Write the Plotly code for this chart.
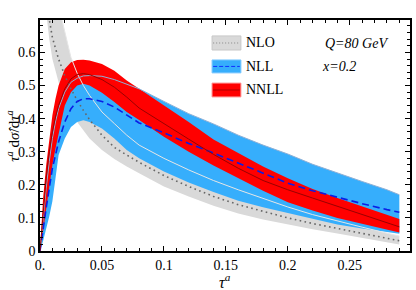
import plotly.graph_objects as go

# ---------------- data ----------------
tau = [0, 0.0025, 0.005, 0.0075, 0.01, 0.0125, 0.015, 0.02, 0.025, 0.03, 0.035, 0.04,
       0.05, 0.06, 0.07, 0.08, 0.1, 0.12, 0.14, 0.16, 0.18, 0.2, 0.22, 0.24, 0.26, 0.28, 0.29]

nnll_central = [0, 0.12, 0.22, 0.30, 0.36, 0.405, 0.44, 0.49, 0.52, 0.533, 0.536, 0.533,
                0.518, 0.495, 0.465, 0.432, 0.384, 0.338, 0.292, 0.25, 0.213, 0.185, 0.16,
                0.135, 0.11, 0.086, 0.073]
nnll_upper = [0, 0.16, 0.26, 0.34, 0.41, 0.46, 0.5, 0.55, 0.57, 0.577, 0.578, 0.576,
              0.565, 0.545, 0.515, 0.49, 0.44, 0.39, 0.337, 0.295, 0.255, 0.22, 0.187,
              0.16, 0.135, 0.11, 0.097]
nnll_lower = [0, 0.06, 0.12, 0.19, 0.26, 0.31, 0.36, 0.44, 0.48, 0.5, 0.505, 0.5,
              0.478, 0.45, 0.42, 0.396, 0.345, 0.3, 0.258, 0.22, 0.182, 0.147, 0.122,
              0.1, 0.082, 0.065, 0.056]

nll_central = [0, 0.07, 0.13, 0.19, 0.25, 0.29, 0.33, 0.39, 0.43, 0.452, 0.46, 0.46,
               0.452, 0.435, 0.41, 0.387, 0.357, 0.325, 0.296, 0.265, 0.235, 0.205, 0.182,
               0.162, 0.143, 0.125, 0.117]
nll_upper = [0, 0.1, 0.19, 0.27, 0.34, 0.39, 0.43, 0.48, 0.51, 0.522, 0.529, 0.53,
             0.528, 0.518, 0.505, 0.49, 0.452, 0.415, 0.384, 0.35, 0.32, 0.293, 0.262,
             0.235, 0.21, 0.185, 0.17]
nll_lower = [0, 0.03, 0.065, 0.105, 0.15, 0.22, 0.29, 0.34, 0.375, 0.39, 0.395, 0.39,
             0.37, 0.34, 0.305, 0.28, 0.24, 0.207, 0.178, 0.152, 0.132, 0.115, 0.097,
             0.08, 0.068, 0.057, 0.052]

tau_nlo = [0.005, 0.006, 0.0075, 0.01, 0.0125, 0.015, 0.0175, 0.02, 0.025, 0.03, 0.035,
           0.04, 0.05, 0.06, 0.07, 0.08, 0.1, 0.12, 0.14, 0.16, 0.18, 0.2, 0.22, 0.24,
           0.26, 0.28, 0.29]
nlo_central = [0.8, 0.75, 0.7, 0.645, 0.61, 0.58, 0.555, 0.53, 0.49, 0.455, 0.425, 0.397,
               0.35, 0.313, 0.29, 0.268, 0.228, 0.195, 0.165, 0.14, 0.12, 0.1, 0.083,
               0.068, 0.053, 0.04, 0.031]
nlo_upper = [1.0, 0.96, 0.9, 0.83, 0.78, 0.74, 0.7, 0.66, 0.585, 0.537, 0.5, 0.47,
             0.42, 0.385, 0.35, 0.32, 0.28, 0.245, 0.213, 0.185, 0.158, 0.133, 0.11,
             0.09, 0.072, 0.054, 0.045]
nlo_lower = [0.72, 0.68, 0.64, 0.58, 0.545, 0.51, 0.485, 0.46, 0.42, 0.39, 0.365, 0.34,
             0.305, 0.278, 0.255, 0.235, 0.195, 0.165, 0.137, 0.113, 0.095, 0.08, 0.066,
             0.053, 0.04, 0.027, 0.02]

x_tickvals = [0, 0.05, 0.1, 0.15, 0.2, 0.25]
x_ticktext = ["0.", "0.05", "0.1", "0.15", "0.2", "0.25"]
y_tickvals = [0, 0.1, 0.2, 0.3, 0.4, 0.5, 0.6]
y_ticktext = ["0", "0.1", "0.2", "0.3", "0.4", "0.5", "0.6"]
legend_labels = ["NLO", "NLL", "NNLL"]

# ---------------- styles ----------------
GRAY = "#d9d9d9"
BLUE = "#36aefc"
RED = "#ff0000"
FONT = "Liberation Serif, DejaVu Serif, Times New Roman, serif"

fig = go.Figure()


def band(x, up, lo, color):
    fig.add_trace(go.Scatter(x=list(x) + list(x)[::-1], y=list(up) + list(lo)[::-1],
                             fill="toself", fillcolor=color, mode="lines",
                             line=dict(width=0, color=color), hoverinfo="skip",
                             showlegend=False))


band(tau_nlo, nlo_upper, nlo_lower, GRAY)
band(tau, nll_upper, nll_lower, BLUE)
band(tau, nnll_upper, nnll_lower, RED)

# band edge lines
fig.add_trace(go.Scatter(x=tau_nlo, y=nlo_upper, mode="lines",
                         line=dict(color="#e6e6e6", width=1), showlegend=False))
fig.add_trace(go.Scatter(x=tau, y=nll_upper, mode="lines",
                         line=dict(color="#8eb0d6", width=1), showlegend=False))

# central lines
fig.add_trace(go.Scatter(x=tau_nlo, y=nlo_central, mode="lines",
                         line=dict(color="#666666", width=1.6, dash="1.6px,3.4px"),
                         showlegend=False))
fig.add_trace(go.Scatter(x=tau, y=nll_central, mode="lines",
                         line=dict(color="#0a1ee6", width=1.6, dash="7px,4px"),
                         showlegend=False))
fig.add_trace(go.Scatter(x=tau, y=nnll_central, mode="lines",
                         line=dict(color="#9a0000", width=1), showlegend=False))

# ---------------- legend (drawn by hand) ----------------
shapes = []
annotations = []
box_specs = [
    (0.870, 0.931, GRAY, "#c8c8c8", dict(color="#888888", width=1, dash="1px,2px")),
    (0.771, 0.827, BLUE, "#7cc8ff", dict(color="#1030ff", width=1, dash="4px,2px")),
    (0.667, 0.727, RED, "#ff9090", dict(color="#b00000", width=1)),
]
for (y0, y1, fc, lc, ln), lab in zip(box_specs, legend_labels):
    shapes.append(dict(type="rect", xref="paper", yref="paper", x0=0.465, x1=0.543,
                       y0=y0, y1=y1, fillcolor=fc, line=dict(color=lc, width=1)))
    ym = (y0 + y1) / 2
    shapes.append(dict(type="line", xref="paper", yref="paper", x0=0.468, x1=0.540,
                       y0=ym, y1=ym, line=ln))
    annotations.append(dict(text=lab, xref="paper", yref="paper", x=0.551, y=ym,
                            xanchor="left", yanchor="middle", showarrow=False,
                            font=dict(family=FONT, size=14, color="black")))

annotations.append(dict(text="<i>Q=80 GeV</i>", xref="paper", yref="paper", x=0.766,
                        y=0.900, xanchor="left", yanchor="middle", showarrow=False,
                        font=dict(family=FONT, size=14, color="black")))
annotations.append(dict(text="<i>x=0.2</i>", xref="paper", yref="paper", x=0.758,
                        y=0.800, xanchor="left", yanchor="middle", showarrow=False,
                        font=dict(family=FONT, size=14, color="black")))

# axis titles
annotations.append(dict(text="<i>τ</i><sup><i>a</i></sup>", xref="paper", yref="paper",
                        x=0.5, y=-0.128, xanchor="center", yanchor="middle",
                        showarrow=False, font=dict(family=FONT, size=16, color="black")))
annotations.append(dict(text="<i>τ</i><sup><i>a</i></sup> d<i>σ̂</i>/d<i>τ</i><sup><i>a</i></sup>",
                        xref="paper", yref="paper", x=-0.075, y=0.5, textangle=-90,
                        xanchor="center", yanchor="middle", showarrow=False,
                        font=dict(family=FONT, size=15, color="black")))

axis_common = dict(showline=True, linecolor="black", linewidth=1.5, mirror="allticks",
                   ticks="inside", ticklen=5, tickcolor="black", tickwidth=1,
                   showgrid=False, zeroline=False,
                   tickfont=dict(family=FONT, size=14, color="black"))

fig.update_layout(
    width=416, height=290,
    margin=dict(l=40, r=4, t=20, b=39),
    paper_bgcolor="white", plot_bgcolor="white",
    showlegend=False,
    shapes=shapes, annotations=annotations,
    xaxis=dict(range=[0, 0.2986], tickvals=x_tickvals, ticktext=x_ticktext,
               minor=dict(dtick=0.01, ticks="inside", ticklen=3, tickcolor="black"),
               **axis_common),
    yaxis=dict(range=[0, 0.698], tickvals=y_tickvals, ticktext=y_ticktext,
               minor=dict(dtick=0.02, ticks="inside", ticklen=3, tickcolor="black"),
               **axis_common),
)

fig.write_html("out.html", config={"displayModeBar": False},
               post_script="document.body.style.margin='0';")
